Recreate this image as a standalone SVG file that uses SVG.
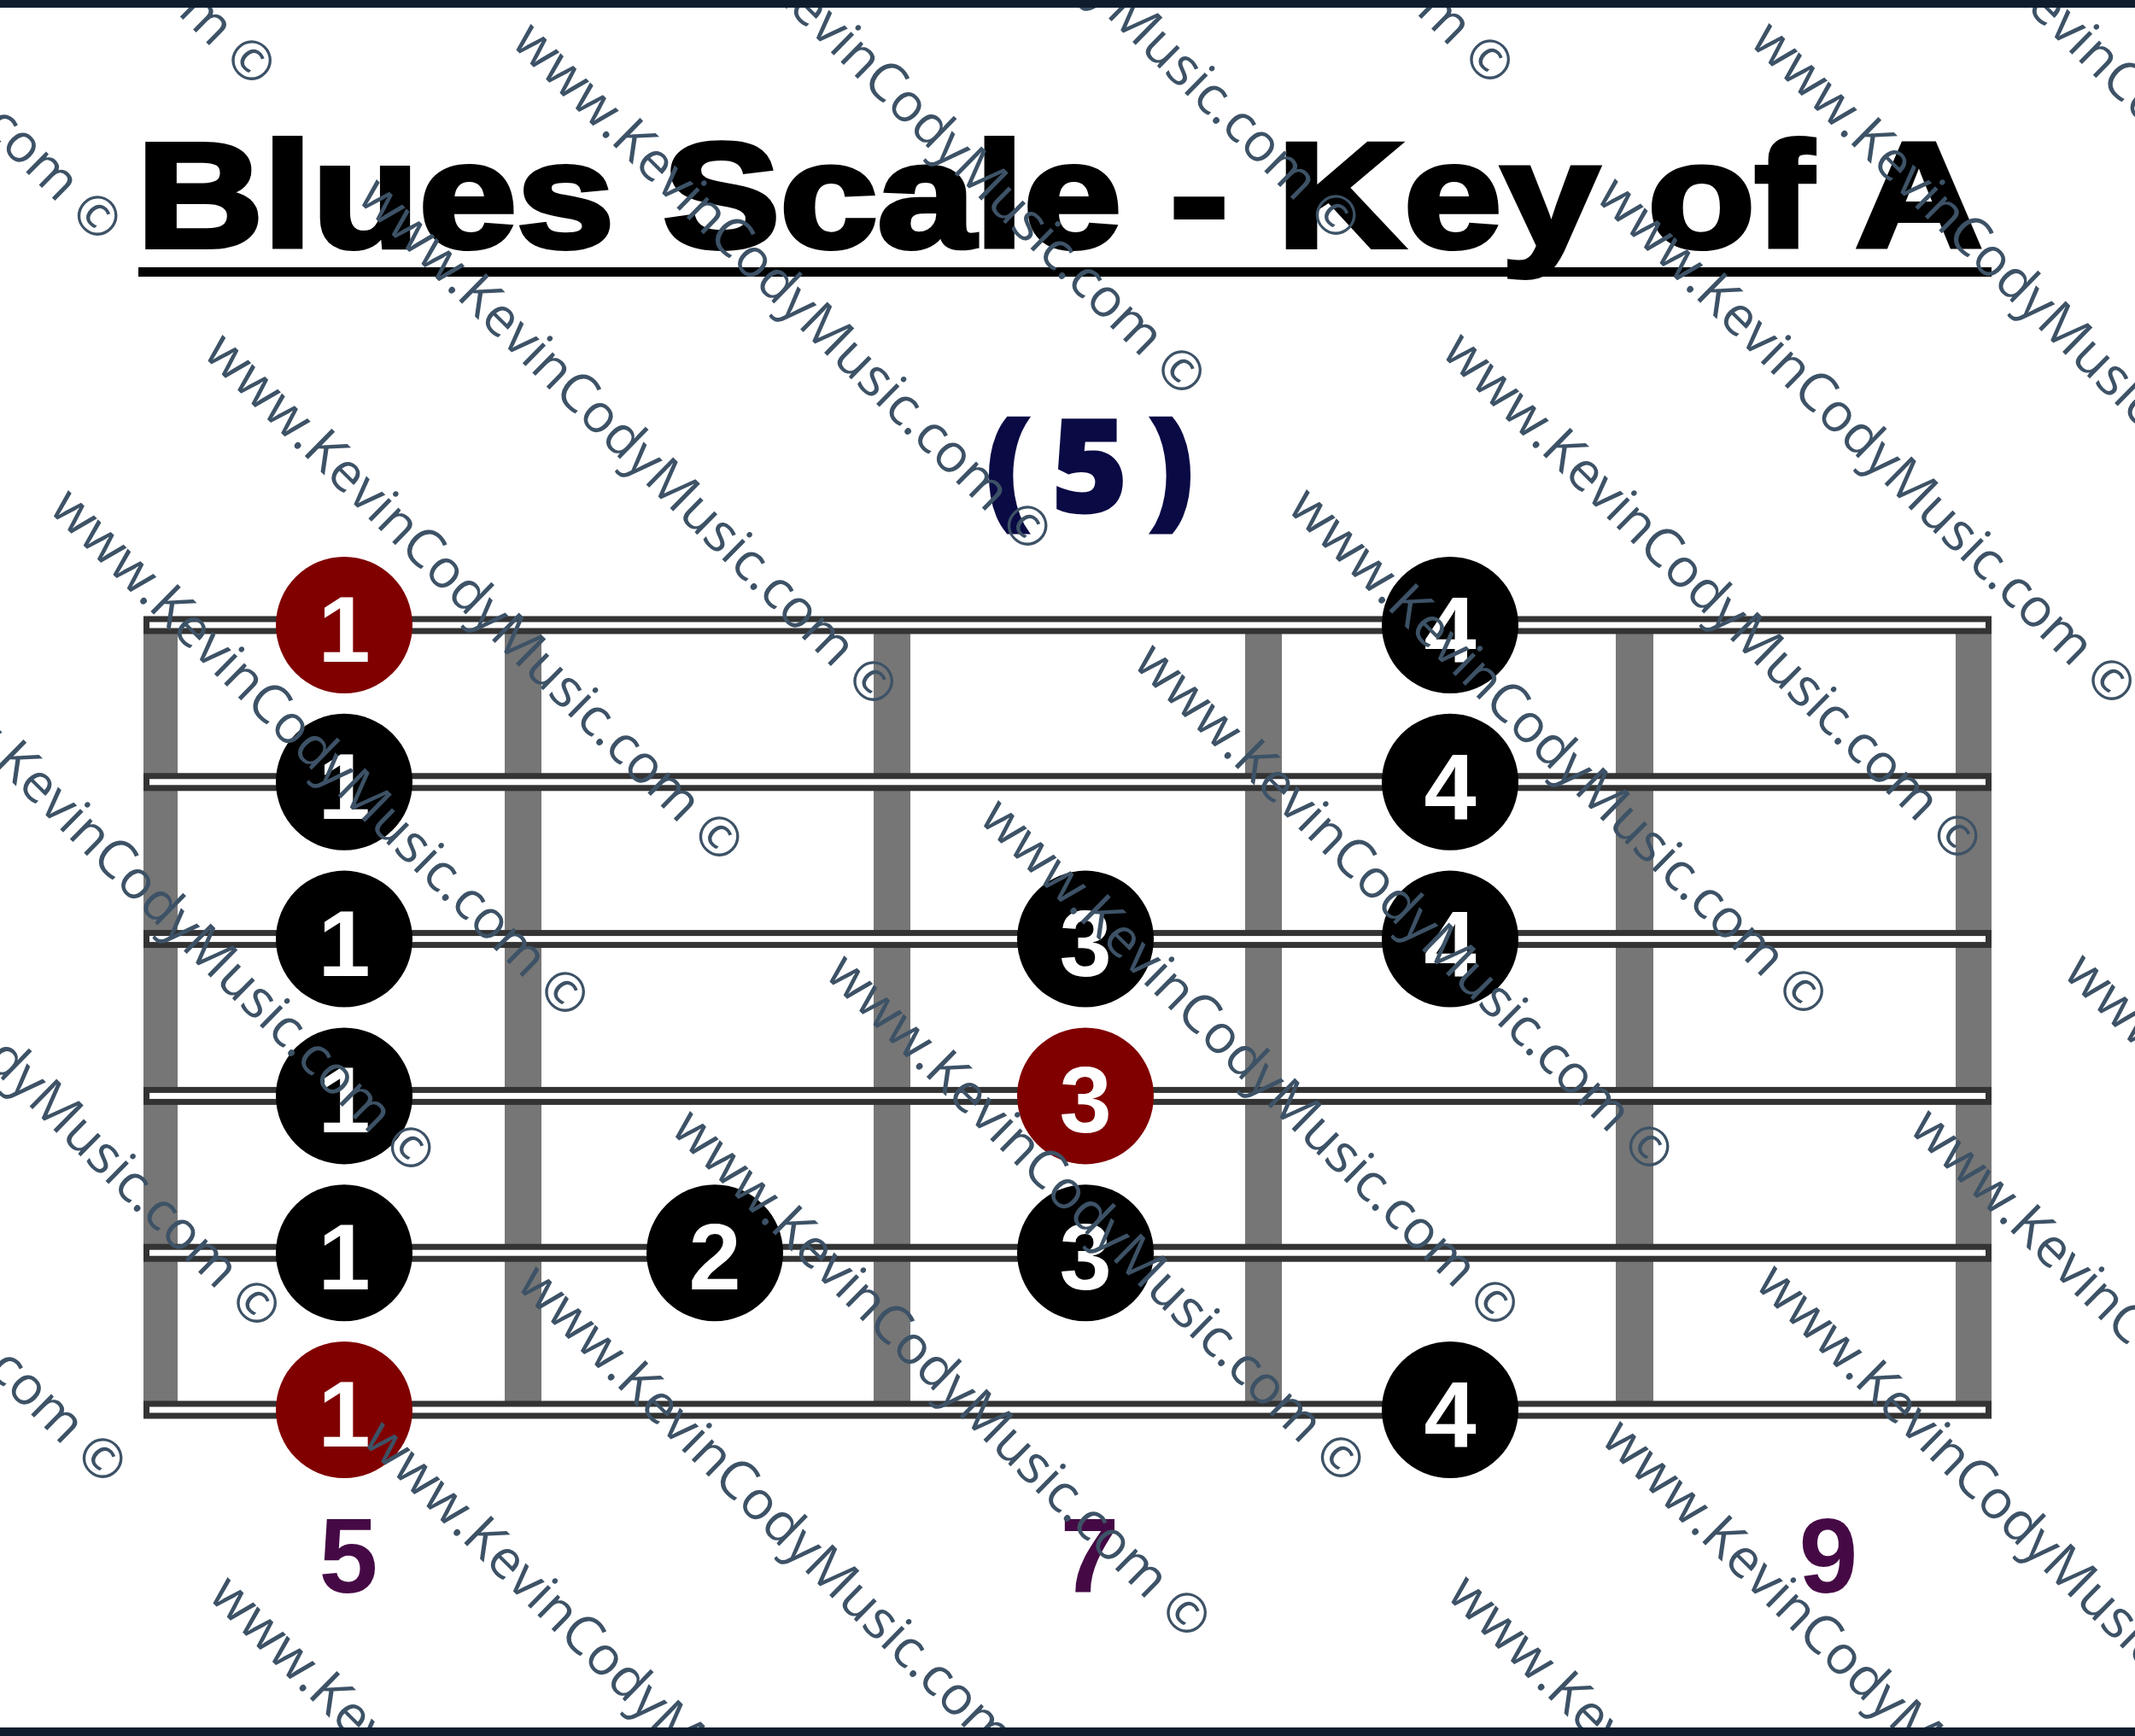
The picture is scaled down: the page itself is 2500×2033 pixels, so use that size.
<svg xmlns="http://www.w3.org/2000/svg" width="2500" height="2033" viewBox="0 0 2500 2033">
<style>
.fret{fill:#767676}
.str{fill:#fff;stroke:#333;stroke-width:7}
.dot-b{fill:#000}
.dot-r{fill:#800000}
.num{font-family:"Liberation Sans",Arial,sans-serif;font-weight:bold;font-size:110px;fill:#fff;text-anchor:middle}
.fn{font-family:"Liberation Sans",Arial,sans-serif;font-weight:bold;font-size:124px;fill:#450a45;text-anchor:middle}
.wm{font-family:"Open Sans",sans-serif;font-size:63px;fill:#3d5266;text-anchor:end}
</style>
<rect x="0" y="0" width="2500" height="2033" fill="#fff"/>
<g id="title">
<text x="160" y="289" textLength="2161" lengthAdjust="spacingAndGlyphs" font-family="Liberation Sans, Arial, sans-serif" font-weight="bold" font-size="175" fill="#000" stroke="#000" stroke-width="6">Blues Scale - Key of A</text>
<rect x="162" y="313" width="2170" height="11" fill="#000"/>
</g>
<g id="position">
<text x="1154" y="600" textLength="244" lengthAdjust="spacing" font-family="Open Sans, sans-serif" font-weight="800" font-size="151" fill="#0a0a45" stroke="#0a0a45" stroke-width="3">(5)</text>
</g>
<g id="fretboard">
<rect class="fret" x="168" y="732" width="40" height="919"/>
<rect class="fret" x="591" y="732" width="43" height="919"/>
<rect class="fret" x="1023" y="732" width="43" height="919"/>
<rect class="fret" x="1458" y="732" width="43" height="919"/>
<rect class="fret" x="1892" y="732" width="44" height="919"/>
<rect class="fret" x="2290" y="732" width="42" height="919"/>
<rect class="str" x="171.5" y="725" width="2157" height="14"/>
<rect class="str" x="171.5" y="908.8" width="2157" height="14"/>
<rect class="str" x="171.5" y="1092.6" width="2157" height="14"/>
<rect class="str" x="171.5" y="1276.4" width="2157" height="14"/>
<rect class="str" x="171.5" y="1460.2" width="2157" height="14"/>
<rect class="str" x="171.5" y="1644" width="2157" height="14"/>
</g>
<g id="n-s1-f5"><circle class="dot-r" cx="403" cy="732" r="80"/><text class="num" x="403" y="775">1</text></g>
<g id="n-s1-f8"><circle class="dot-b" cx="1698" cy="732" r="80"/><text class="num" x="1698" y="775">4</text></g>
<g id="n-s2-f5"><circle class="dot-b" cx="403" cy="915.8" r="80"/><text class="num" x="403" y="958.8">1</text></g>
<g id="n-s2-f8"><circle class="dot-b" cx="1698" cy="915.8" r="80"/><text class="num" x="1698" y="958.8">4</text></g>
<g id="n-s3-f5"><circle class="dot-b" cx="403" cy="1099.6" r="80"/><text class="num" x="403" y="1142.6">1</text></g>
<g id="n-s3-f7"><circle class="dot-b" cx="1271" cy="1099.6" r="80"/><text class="num" x="1271" y="1142.6">3</text></g>
<g id="n-s3-f8"><circle class="dot-b" cx="1698" cy="1099.6" r="80"/><text class="num" x="1698" y="1142.6">4</text></g>
<g id="n-s4-f5"><circle class="dot-b" cx="403" cy="1283.4" r="80"/><text class="num" x="403" y="1326.4">1</text></g>
<g id="n-s4-f7"><circle class="dot-r" cx="1271" cy="1283.4" r="80"/><text class="num" x="1271" y="1326.4">3</text></g>
<g id="n-s5-f5"><circle class="dot-b" cx="403" cy="1467.2" r="80"/><text class="num" x="403" y="1510.2">1</text></g>
<g id="n-s5-f6"><circle class="dot-b" cx="837" cy="1467.2" r="80"/><text class="num" x="837" y="1510.2">2</text></g>
<g id="n-s5-f7"><circle class="dot-b" cx="1271" cy="1467.2" r="80"/><text class="num" x="1271" y="1510.2">3</text></g>
<g id="n-s6-f5"><circle class="dot-r" cx="403" cy="1651" r="80"/><text class="num" x="403" y="1694">1</text></g>
<g id="n-s6-f8"><circle class="dot-b" cx="1698" cy="1651" r="80"/><text class="num" x="1698" y="1694">4</text></g>
<g id="fret-numbers">
<text class="fn" x="408" y="1865">5</text>
<text class="fn" x="1276" y="1865">7</text>
<text class="fn" x="2141" y="1865">9</text>
</g>
<g id="watermark">
<text class="wm" x="26" y="22" transform="translate(1744.5,70) rotate(44.5)">www.KevinCodyMusic.com ©</text>
<text class="wm" x="26" y="22" transform="translate(1564,252) rotate(44.5)">www.KevinCodyMusic.com ©</text>
<text class="wm" x="26" y="22" transform="translate(1383.5,434) rotate(44.5)">www.KevinCodyMusic.com ©</text>
<text class="wm" x="26" y="22" transform="translate(1203,616) rotate(44.5)">www.KevinCodyMusic.com ©</text>
<text class="wm" x="26" y="22" transform="translate(1022.5,798) rotate(44.5)">www.KevinCodyMusic.com ©</text>
<text class="wm" x="26" y="22" transform="translate(842,980) rotate(44.5)">www.KevinCodyMusic.com ©</text>
<text class="wm" x="26" y="22" transform="translate(661.5,1162) rotate(44.5)">www.KevinCodyMusic.com ©</text>
<text class="wm" x="26" y="22" transform="translate(481,1344) rotate(44.5)">www.KevinCodyMusic.com ©</text>
<text class="wm" x="26" y="22" transform="translate(300.5,1526) rotate(44.5)">www.KevinCodyMusic.com ©</text>
<text class="wm" x="26" y="22" transform="translate(120,1708) rotate(44.5)">www.KevinCodyMusic.com ©</text>
<text class="wm" x="26" y="22" transform="translate(294.5,71) rotate(44.5)">www.KevinCodyMusic.com ©</text>
<text class="wm" x="26" y="22" transform="translate(114,253) rotate(44.5)">www.KevinCodyMusic.com ©</text>
<text class="wm" x="26" y="22" transform="translate(2833.5,433) rotate(44.5)">www.KevinCodyMusic.com ©</text>
<text class="wm" x="26" y="22" transform="translate(2653,615) rotate(44.5)">www.KevinCodyMusic.com ©</text>
<text class="wm" x="26" y="22" transform="translate(2472.5,797) rotate(44.5)">www.KevinCodyMusic.com ©</text>
<text class="wm" x="26" y="22" transform="translate(2292,979) rotate(44.5)">www.KevinCodyMusic.com ©</text>
<text class="wm" x="26" y="22" transform="translate(2111.5,1161) rotate(44.5)">www.KevinCodyMusic.com ©</text>
<text class="wm" x="26" y="22" transform="translate(1931,1343) rotate(44.5)">www.KevinCodyMusic.com ©</text>
<text class="wm" x="26" y="22" transform="translate(1750.5,1525) rotate(44.5)">www.KevinCodyMusic.com ©</text>
<text class="wm" x="26" y="22" transform="translate(1570,1707) rotate(44.5)">www.KevinCodyMusic.com ©</text>
<text class="wm" x="26" y="22" transform="translate(1389.5,1889) rotate(44.5)">www.KevinCodyMusic.com ©</text>
<text class="wm" x="26" y="22" transform="translate(1209,2071) rotate(44.5)">www.KevinCodyMusic.com ©</text>
<text class="wm" x="26" y="22" transform="translate(1028.5,2253) rotate(44.5)">www.KevinCodyMusic.com ©</text>
<text class="wm" x="26" y="22" transform="translate(848,2435) rotate(44.5)">www.KevinCodyMusic.com ©</text>
<text class="wm" x="26" y="22" transform="translate(3020,1706) rotate(44.5)">www.KevinCodyMusic.com ©</text>
<text class="wm" x="26" y="22" transform="translate(2839.5,1888) rotate(44.5)">www.KevinCodyMusic.com ©</text>
<text class="wm" x="26" y="22" transform="translate(2659,2070) rotate(44.5)">www.KevinCodyMusic.com ©</text>
<text class="wm" x="26" y="22" transform="translate(2478.5,2252) rotate(44.5)">www.KevinCodyMusic.com ©</text>
<text class="wm" x="26" y="22" transform="translate(2298,2434) rotate(44.5)">www.KevinCodyMusic.com ©</text>
</g>
<g id="border">
<rect x="0" y="0" width="2500" height="9" fill="#0f1c2e"/>
<rect x="0" y="2023" width="2500" height="10" fill="#0f1c2e"/>
</g>
</svg>
